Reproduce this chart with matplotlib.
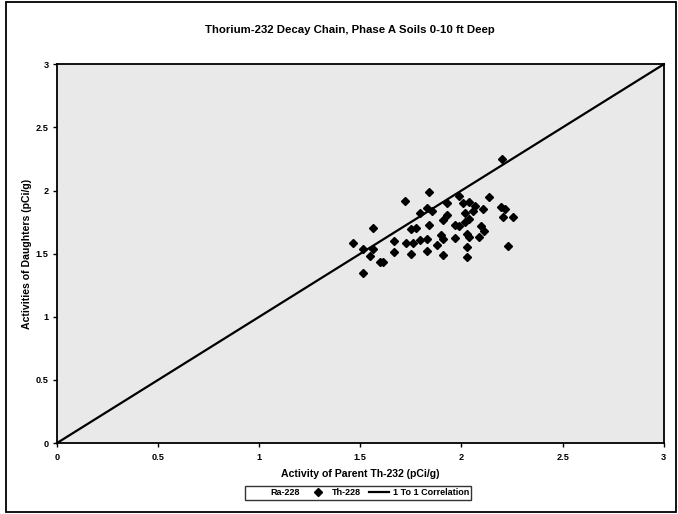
import numpy as np
import matplotlib.pyplot as plt
from matplotlib.patches import Rectangle

# Th-228 activity vs parent Th-232 activity (pCi/g)
th232 = [2.198, 1.839, 1.720, 1.987, 1.928, 2.007, 2.037, 2.135, 1.829, 1.854,
         1.794, 2.066, 2.106, 2.056, 2.195, 2.214, 2.017, 1.928, 2.205, 2.254,
         2.037, 1.908, 2.017, 1.839, 1.967, 1.987, 2.096, 1.564, 1.750, 1.775,
         2.111, 1.898, 2.027, 2.037, 2.086, 1.967, 1.908, 1.829, 1.794, 1.667,
         1.725, 1.760, 1.465, 1.878, 1.514, 1.564, 2.027, 2.229, 1.667, 1.829,
         1.750, 1.908, 1.547, 2.027, 1.597, 1.613, 1.514]
th228 = [2.246, 1.985, 1.914, 1.953, 1.898, 1.903, 1.906, 1.945, 1.858, 1.839,
         1.823, 1.874, 1.853, 1.835, 1.871, 1.850, 1.819, 1.803, 1.789, 1.789,
         1.771, 1.763, 1.747, 1.724, 1.724, 1.718, 1.716, 1.700, 1.692, 1.705,
         1.676, 1.645, 1.652, 1.631, 1.631, 1.621, 1.613, 1.613, 1.605, 1.602,
         1.581, 1.581, 1.581, 1.570, 1.534, 1.534, 1.549, 1.562, 1.515, 1.523,
         1.499, 1.491, 1.483, 1.470, 1.431, 1.431, 1.344]
# Ra-228 has no visible points on the chart
ra228_x = []
ra228_y = []
one_to_one = [0, 3]
ticks = [0, 0.5, 1, 1.5, 2, 2.5, 3]
tick_labels = ['0', '0.5', '1', '1.5', '2', '2.5', '3']

plt.rcParams['font.family'] = ['Liberation Sans', 'DejaVu Sans']
plt.rcParams['font.weight'] = 'bold'

fig = plt.figure(figsize=(6.78, 5.14), dpi=100)
ax = fig.add_axes([0.084, 0.138, 0.895, 0.737])
ax.set_facecolor('#e9e9e9')

ax.plot(ra228_x, ra228_y, 's', color='white', markersize=5, label='Ra-228')
ax.plot(th232, th228, 'D', color='black', markersize=4.2, label='Th-228')
ax.plot(one_to_one, one_to_one, '-', color='black', lw=1.6, label='1 To 1 Correlation',
        clip_on=False)

ax.set_xlim(0, 3)
ax.set_ylim(0, 3)
ax.set_xticks(ticks)
ax.set_xticklabels(tick_labels)
ax.set_yticks(ticks)
ax.set_yticklabels(tick_labels)
ax.tick_params(labelsize=6.6, length=3, width=1, direction='out', pad=4)
ax.tick_params(axis='y', pad=3)
for s in ax.spines.values():
    s.set_linewidth(1.3)

ax.set_xlabel('Activity of Parent Th-232 (pCi/g)', fontsize=7.6, fontweight='bold', labelpad=5)
ax.set_ylabel('Activities of Daughters (pCi/g)', fontsize=7.6, fontweight='bold', labelpad=3)
fig.text(0.516, 0.942, 'Thorium-232 Decay Chain, Phase A Soils 0-10 ft Deep',
         ha='center', va='center', fontsize=8.2, fontweight='bold')

leg = fig.legend(loc='center', bbox_to_anchor=(0.528, 0.041), ncol=3, fontsize=6.5,
                 frameon=True, fancybox=False, handlelength=2.2, handletextpad=0.4,
                 columnspacing=0.9, borderpad=0.3, edgecolor='black')
leg.get_frame().set_linewidth(1.0)

fig.patches.append(Rectangle((0.009, 0.003), 0.988, 0.994, transform=fig.transFigure,
                             fill=False, edgecolor='black', lw=1.3))

fig.savefig('out.png', dpi=100)
